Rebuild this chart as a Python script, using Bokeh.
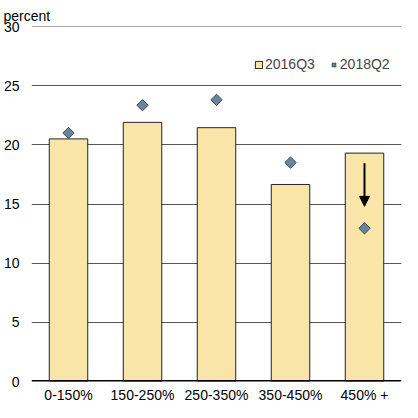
import math
from bokeh.plotting import figure
from bokeh.models import (Range1d, FixedTicker, Span, Arrow, NormalHead, Title,
                          Legend, LegendItem, ColumnDataSource)
from bokeh.embed import file_html
from bokeh.resources import INLINE

categories = ["0-150%", "150-250%", "250-350%", "350-450%", "450% +"]
s2016q3 = [20.5, 21.9, 21.45, 16.65, 19.3]
s2018q2 = [21.0, 23.35, 23.8, 18.5, 12.95]
y_ticks = [0, 5, 10, 15, 20, 25, 30]
arrow_from = 18.45
arrow_to = 14.8

FONT = "Liberation Sans"
xs = list(range(len(categories)))
src = ColumnDataSource(dict(x=xs, bar=s2016q3, dot=s2018q2))

p = figure(width=402, height=402, output_backend="svg", toolbar_location=None,
           x_range=Range1d(-0.5, len(categories) - 0.5), y_range=Range1d(0, 30),
           frame_width=370, frame_height=355,
           min_border_left=30, min_border_right=2, min_border_top=26, min_border_bottom=21)
p.outline_line_color = None
p.background_fill_color = "white"
p.border_fill_color = "white"

p.title = Title(text="percent", align="left", offset=-28, standoff=2,
                vertical_align="top",
                text_font=FONT, text_font_size="14px", text_font_style="normal",
                text_color="black")

p.xgrid.grid_line_color = None
p.ygrid.grid_line_color = "#555555"
p.ygrid.grid_line_width = 1.2
p.ygrid.ticker = FixedTicker(ticks=y_ticks)

p.yaxis.ticker = FixedTicker(ticks=y_ticks)
p.xaxis.ticker = FixedTicker(ticks=xs)
p.xaxis.major_label_overrides = {i: c for i, c in enumerate(categories)}
for ax in (p.xaxis[0], p.yaxis[0]):
    ax.axis_line_color = None
    ax.major_tick_line_color = None
    ax.minor_tick_line_color = None
    ax.major_tick_out = 0
    ax.major_tick_in = 0
    ax.minor_tick_out = 0
    ax.minor_tick_in = 0
    ax.major_label_text_font = FONT
    ax.major_label_text_font_size = "14px"
    ax.major_label_text_color = "black"
p.yaxis.major_label_standoff = 12
p.xaxis.major_label_standoff = 5

bars = p.vbar(x="x", top="bar", width=0.52, bottom=0, source=src,
              fill_color="#FAE5A8", line_color="#222222", line_width=1)
dots = p.scatter(x="x", y="dot", source=src, marker="square", angle=math.pi / 4,
                 size=8, fill_color="#6A8599", line_color="#3A4A56", line_width=1)

p.add_layout(Span(location=30, dimension="width", line_color="#555555", line_width=1.2))
p.add_layout(Span(location=0, dimension="width", line_color="black", line_width=3))

p.add_layout(Arrow(end=NormalHead(size=10, fill_color="black", line_color="black"),
                   x_start=4, y_start=arrow_from, x_end=4, y_end=arrow_to,
                   line_color="black", line_width=2))

legend = Legend(items=[LegendItem(label="2016Q3", renderers=[bars]),
                       LegendItem(label="2018Q2", renderers=[dots])],
                orientation="horizontal", location=(223, 309),
                border_line_color=None, background_fill_alpha=0,
                glyph_width=9, glyph_height=9, label_standoff=2, spacing=14,
                padding=0, margin=0, label_text_font=FONT,
                label_text_font_size="14px", label_height=16)
p.add_layout(legend, "center")

open("out.html", "w").write(file_html(p, INLINE))
